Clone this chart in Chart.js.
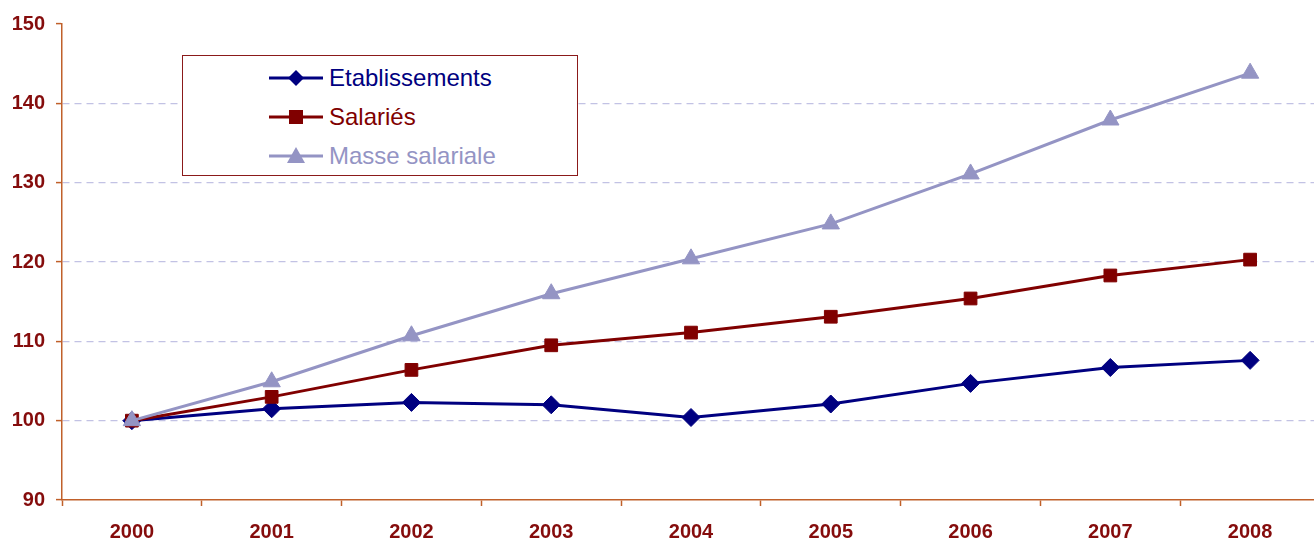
<!DOCTYPE html>
<html lang="fr">
<head>
    <meta charset="UTF-8">
    <title>Etablissements, salariés et masse salariale</title>
    <script src="https://cdn.jsdelivr.net/npm/chart.js"></script>
    <style>
        body {
            margin: 0;
            background: #fff;
            overflow: hidden;
            font-family: "Liberation Sans", Arial, sans-serif;
        }
        .wrap {
            position: relative;
            width: 1314px;
            height: 541px;
            overflow: hidden;
        }
        canvas { position: absolute; left: 0; top: 0; }
        .legend {
            position: absolute;
            left: 182px;
            top: 55px;
            width: 394px;
            height: 119px;
            border: 1px solid #8b1a1a;
            background: #fff;
        }
        .legend .row {
            position: absolute;
            left: 86px;
            height: 30px;
            display: flex;
            align-items: center;
            font-size: 24px;
        }
        .legend svg { margin-right: 6px; }
    </style>
</head>
<body>
<div class="wrap">
    <canvas id="chart" width="1331" height="541"></canvas>
    <div class="legend" id="legend"></div>
</div>

<script>
    const years = ["2000", "2001", "2002", "2003", "2004", "2005", "2006", "2007", "2008"];
    const etablissements = [100, 101.5, 102.3, 102.0, 100.4, 102.1, 104.7, 106.7, 107.6];
    const salaries = [100, 103.0, 106.4, 109.5, 111.1, 113.1, 115.4, 118.3, 120.3];
    const masseSalariale = [100, 104.9, 110.7, 116.0, 120.4, 124.8, 131.1, 137.9, 143.8];
    const yTicks = [90, 100, 110, 120, 130, 140, 150];

    const axisColor = '#c0602a';
    const labelColor = '#850c0c';
    const font = '"Liberation Sans", Arial, sans-serif';

    const series = [
        { label: 'Etablissements', data: etablissements, color: '#000080', style: 'rectRot', r: 9 },
        { label: 'Salariés', data: salaries, color: '#800000', style: 'rect', r: 9 },
        { label: 'Masse salariale', data: masseSalariale, color: '#9494c4', style: 'triangle', r: 10 }
    ];

    new Chart(document.getElementById('chart'), {
        type: 'line',
        data: {
            labels: years,
            datasets: series.map(s => ({
                label: s.label,
                data: s.data,
                borderColor: s.color,
                backgroundColor: s.color,
                borderWidth: 3,
                tension: 0,
                pointStyle: s.style,
                pointRadius: s.r,
                pointBackgroundColor: s.color,
                pointBorderColor: s.color,
                pointBorderWidth: 1
            })).reverse()
        },
        options: {
            responsive: false,
            animation: false,
            layout: { padding: { top: 24, right: 0, left: 0, bottom: 0 } },
            plugins: {
                legend: { display: false },
                tooltip: { enabled: false }
            },
            scales: {
                x: {
                    offset: true,
                    afterFit: s => { s.height = 41; },
                    border: { color: axisColor, width: 1.5 },
                    grid: {
                        offset: true,
                        drawOnChartArea: false,
                        tickLength: 6,
                        tickColor: axisColor,
                        tickWidth: 1.5
                    },
                    ticks: {
                        color: labelColor,
                        font: { family: font, size: 20, weight: 'bold' },
                        padding: 14,
                        maxRotation: 0
                    }
                },
                y: {
                    min: 90,
                    max: 150,
                    afterFit: s => { s.width = 62; },
                    afterBuildTicks: s => { s.ticks = yTicks.map(v => ({ value: v })); },
                    border: { color: axisColor, width: 1.5, dash: [7, 5] },
                    grid: {
                        color: c => (c.tick && (c.tick.value === 90 || c.tick.value === 150)) ? 'rgba(0,0,0,0)' : '#c2c2e4',
                        lineWidth: 1.2,
                        tickLength: 6,
                        tickColor: axisColor,
                        tickWidth: 1.5,
                        tickBorderDash: []
                    },
                    ticks: {
                        color: labelColor,
                        font: { family: font, size: 20, weight: 'bold' },
                        padding: 11
                    }
                }
            }
        }
    });

    // legend box drawn as html, markers as small svgs
    const legend = document.getElementById('legend');
    const rowTops = [7, 46, 85];
    series.forEach((s, i) => {
        const row = document.createElement('div');
        row.className = 'row';
        row.style.top = rowTops[i] + 'px';
        row.style.color = s.color;
        let mark = '';
        if (s.style === 'rectRot') mark = '<polygon points="27,7 35,15 27,23 19,15" fill="' + s.color + '"/>';
        if (s.style === 'rect') mark = '<rect x="20" y="8" width="14" height="14" fill="' + s.color + '"/>';
        if (s.style === 'triangle') mark = '<polygon points="27,6 36,22 18,22" fill="' + s.color + '"/>';
        row.innerHTML = '<svg width="54" height="30"><line x1="0" y1="15" x2="54" y2="15" stroke="' + s.color + '" stroke-width="3"/>' + mark + '</svg><span>' + s.label + '</span>';
        legend.appendChild(row);
    });
</script>
</body>
</html>
